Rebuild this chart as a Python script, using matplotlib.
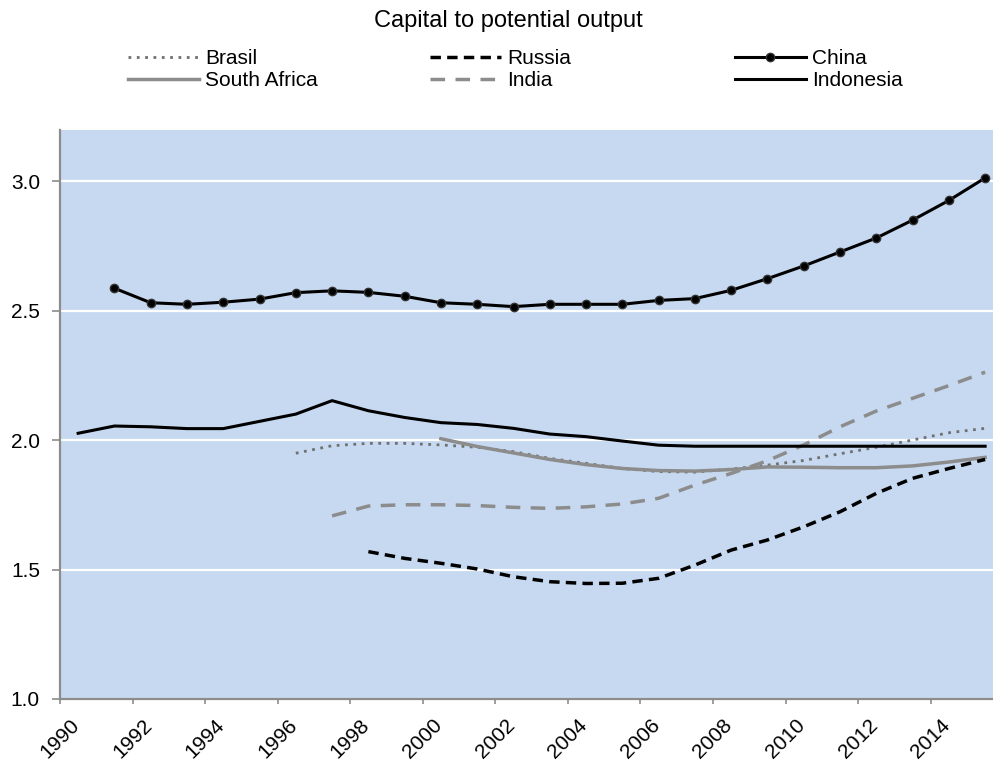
import matplotlib
matplotlib.use("Agg")
import matplotlib.pyplot as plt
import numpy as np

plt.rcParams['font.family'] = ['Liberation Sans', 'DejaVu Sans']

# Values (one value per year, plotted in the middle of the year)
china_years = list(range(1991, 2016))
china = [2.586, 2.530, 2.524, 2.532, 2.544, 2.569, 2.576, 2.570, 2.555, 2.530,
         2.524, 2.515, 2.524, 2.524, 2.524, 2.539, 2.546, 2.578, 2.623, 2.672,
         2.726, 2.780, 2.849, 2.925, 3.012]

indonesia_years = list(range(1990, 2016))
indonesia = [2.026, 2.054, 2.051, 2.044, 2.044, 2.072, 2.100, 2.152, 2.113, 2.087,
             2.067, 2.060, 2.045, 2.023, 2.013, 1.996, 1.980, 1.976, 1.976, 1.976,
             1.976, 1.976, 1.976, 1.976, 1.976, 1.976]

brasil_years = list(range(1996, 2016))
brasil = [1.949, 1.978, 1.987, 1.987, 1.981, 1.972, 1.955, 1.929, 1.910, 1.890,
          1.878, 1.876, 1.888, 1.903, 1.921, 1.947, 1.972, 2.000, 2.028, 2.045]

safrica_years = list(range(2000, 2016))
safrica = [2.005, 1.975, 1.950, 1.925, 1.905, 1.890, 1.882, 1.880, 1.886, 1.896,
           1.895, 1.893, 1.893, 1.900, 1.915, 1.933]

india_years = list(range(1997, 2016))
india = [1.707, 1.745, 1.750, 1.750, 1.747, 1.740, 1.736, 1.742, 1.753, 1.775,
         1.826, 1.871, 1.920, 1.981, 2.051, 2.112, 2.161, 2.210, 2.262]

russia_years = list(range(1998, 2016))
russia = [1.569, 1.543, 1.524, 1.502, 1.472, 1.453, 1.446, 1.447, 1.466, 1.517,
          1.575, 1.614, 1.665, 1.723, 1.794, 1.852, 1.890, 1.925]

fig = plt.figure(figsize=(9.93, 7.62), dpi=100)
ax = fig.add_axes([60 / 993, 1 - 699 / 762, 933 / 993, 569 / 762])
ax.set_facecolor('#C6D9F0')

def xs(years):
    # Excel category axis: points sit between the year ticks
    return np.array(years) + 0.5

h_brasil, = ax.plot(xs(brasil_years), brasil, color='#707070', lw=2.0,
                    linestyle=(0, (1, 2)), label='Brasil')
h_safrica, = ax.plot(xs(safrica_years), safrica, color='#8C8C8C', lw=2.5,
                     label='South Africa')
h_india, = ax.plot(xs(india_years), india, color='#8C8C8C', lw=2.5,
                   linestyle=(0, (4.2, 3)), label='India')
h_russia, = ax.plot(xs(russia_years), russia, color='black', lw=2.5,
                    linestyle=(0, (3, 1.8)), label='Russia')
h_indonesia, = ax.plot(xs(indonesia_years), indonesia, color='black', lw=2.2,
                       label='Indonesia')
h_china, = ax.plot(xs(china_years), china, color='black', lw=2.2, marker='o',
                   markersize=6, markeredgecolor='#333333', label='China')

ax.set_xlim(1990, 1990 + 933 / 36.28)
ax.set_ylim(1.0, 3.197)
ax.set_yticks([1.0, 1.5, 2.0, 2.5, 3.0])
ax.set_yticklabels(['1.0', '1.5', '2.0', '2.5', '3.0'])
ax.set_xticks(range(1990, 2016, 2))
ax.set_xticklabels([str(y) for y in range(1990, 2016, 2)], rotation=45,
                   ha='center', va='top')
ax.grid(axis='y', color='white', lw=1.6)
ax.set_axisbelow(True)
for side in ['top', 'right']:
    ax.spines[side].set_visible(False)
for side in ['left', 'bottom']:
    ax.spines[side].set_color('#8C8C8C')
    ax.spines[side].set_linewidth(1.6)
ax.tick_params(axis='both', colors='#8C8C8C', labelcolor='black', labelsize=15,
               width=1.2, direction='out')
ax.tick_params(axis='x', length=3.6, pad=8)
ax.tick_params(axis='y', length=5.8, pad=8.6)

fig.text(508 / 993, 1 - 21 / 762, 'Capital to potential output', ha='center',
         va='center', fontsize=17)

cols = [([h_brasil, h_safrica], 128), ([h_russia, h_india], 430),
        ([h_china, h_indonesia], 735)]
for handles, xpix in cols:
    leg = fig.legend(handles=handles, loc='upper left',
                     bbox_to_anchor=(xpix / 993, 1 - 49 / 762), frameon=False,
                     fontsize=15, handlelength=3.4, handletextpad=0.3,
                     borderpad=0, borderaxespad=0, labelspacing=0.15)

fig.savefig('out.png', dpi=100)
